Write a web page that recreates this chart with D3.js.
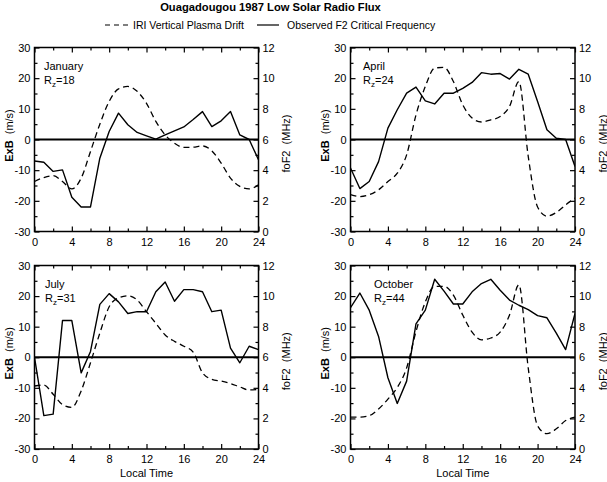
<!DOCTYPE html>
<html><head><meta charset="utf-8">
<script src="https://cdn.jsdelivr.net/npm/d3@7"></script>
<style>
body{margin:0;background:#fff}
svg{display:block}
text{font-family:"Liberation Sans",Arial,sans-serif;fill:#000}
</style>
</head><body>
<svg id="c" width="607" height="482"></svg>
<script>
// ---------------- data ----------------
const hours = [0,1,2,3,4,5,6,7,8,9,10,11,12,13,14,15,16,17,18,19,20,21,22,23,24];
const months = ["January","April","July","October"];
const sunspotRz = [18,24,31,44];

// IRI vertical plasma drift ExB (m/s)
const driftJan = [-13.7,-12.4,-11.8,-13.7,-16.1,-12.6,-3.9,5.0,12.4,16.5,17.3,15.7,11.8,5.9,1.5,-1.2,-2.6,-2.5,-2.1,-3.7,-7.7,-12.6,-15.3,-16.1,-14.8];
const driftApr = [-18.0,-18.6,-18.0,-16.4,-13.7,-11.0,-5.0,8.0,17.3,23.3,23.5,18.9,11.3,7.0,5.7,6.4,7.5,10.8,18.9,-5.5,-22.0,-25.0,-23.8,-21.3,-19.1];
const driftJul = [-9.4,-9.1,-12.1,-15.5,-16.4,-11.0,-1.8,7.9,16.5,19.4,20.1,18.7,14.9,11.1,7.3,5.2,3.6,1.7,-5.1,-7.2,-7.8,-8.6,-9.7,-10.7,-10.5];
const driftOct = [-19.6,-19.6,-19.1,-16.9,-13.7,-9.9,-3.5,8.4,18.1,23.2,23.2,20.3,13.8,8.2,5.7,6.3,8.2,13.8,23.7,-3.5,-22.4,-25.0,-23.4,-20.7,-19.6];

// Observed F2 critical frequency foF2 (MHz)
const foF2Jan = [4.60,4.52,3.92,4.02,2.24,1.60,1.60,4.78,6.52,7.72,6.96,6.46,6.24,6.02,6.30,6.56,6.82,7.30,7.82,6.84,7.22,7.82,6.30,6.00,4.68];
const foF2Apr = [4.14,2.80,3.26,4.56,6.74,7.94,9.02,9.42,8.52,8.32,9.02,9.02,9.34,9.72,10.36,10.26,10.30,9.94,10.58,10.26,8.48,6.64,6.08,6.00,4.24];
const foF2Jul = [6.00,2.18,2.28,8.40,8.40,4.98,6.38,9.46,10.16,9.62,8.86,8.98,8.98,10.28,10.92,9.66,10.42,10.42,10.28,8.98,9.08,6.60,5.64,6.72,6.50];
const foF2Oct = [9.24,10.20,9.08,7.36,4.66,2.98,4.44,8.18,9.08,11.10,10.32,9.48,9.48,10.28,10.82,11.10,10.38,9.74,9.40,9.12,8.72,8.58,7.58,6.50,8.86];

const xTicks = [0,4,8,12,16,20,24];
const xMinor = [2,6,10,14,18,22];
const leftTicks = [-30,-20,-10,0,10,20,30];
const leftMinor = [-25,-15,-5,5,15,25];
const rightTicks = [0,2,4,6,8,10,12];

const title = "Ouagadougou 1987 Low Solar Radio Flux";
const legendDrift = "IRI Vertical Plasma Drift";
const legendFoF2 = "Observed F2 Critical Frequency";

// ---------------- layout ----------------
const svg = d3.select("#c");
const F = '"Liberation Sans",Arial,sans-serif';

const panels = [
  {month:months[0], rz:sunspotRz[0], drift:driftJan, fo:foF2Jan, L:34.5, R:258.5, T:47.5, B:231.5, lx:44, bottom:false},
  {month:months[1], rz:sunspotRz[1], drift:driftApr, fo:foF2Apr, L:350.5, R:575, T:47.5, B:231.5, lx:363, bottom:false},
  {month:months[2], rz:sunspotRz[2], drift:driftJul, fo:foF2Jul, L:34.5, R:258.5, T:265.5, B:449, lx:45, bottom:true},
  {month:months[3], rz:sunspotRz[3], drift:driftOct, fo:foF2Oct, L:350.5, R:575, T:265.5, B:449, lx:374, bottom:true}
];

svg.append("text").attr("x",270.5).attr("y",10.5).attr("text-anchor","middle")
  .style("font-size","11.2px").style("font-weight","bold").text(title);

// legend
const lg = svg.append("g");
lg.append("line").attr("x1",105).attr("x2",128).attr("y1",25).attr("y2",25)
  .attr("stroke","#000").attr("stroke-width",1.2).attr("stroke-dasharray","5,4");
lg.append("text").attr("x",133).attr("y",29).style("font-size","10.5px").text(legendDrift);
lg.append("line").attr("x1",257).attr("x2",279).attr("y1",25).attr("y2",25)
  .attr("stroke","#000").attr("stroke-width",1.2);
lg.append("text").attr("x",287).attr("y",29).style("font-size","10.5px").text(legendFoF2);

panels.forEach(p => {
  const g = svg.append("g");
  const x = d3.scaleLinear().domain([0,24]).range([p.L,p.R]);
  const yL = d3.scaleLinear().domain([-30,30]).range([p.B,p.T]);
  const yR = d3.scaleLinear().domain([0,12]).range([p.B,p.T]);

  // axes with inward ticks
  const axB = d3.axisBottom(x).tickValues(xTicks).tickSize(-5).tickPadding(6.5).tickFormat(d3.format("d"));
  const axT = d3.axisTop(x).tickValues(xTicks).tickSize(-5).tickFormat("");
  const axL = d3.axisLeft(yL).tickValues(leftTicks).tickSize(-5).tickPadding(4).tickFormat(d=>d);
  const axR = d3.axisRight(yR).tickValues(rightTicks).tickSize(-5).tickPadding(4);
  const axBm = d3.axisBottom(x).tickValues(xMinor).tickSize(-3).tickFormat("");
  const axTm = d3.axisTop(x).tickValues(xMinor).tickSize(-3).tickFormat("");
  const axLm = d3.axisLeft(yL).tickValues(leftMinor).tickSize(-3).tickFormat("");
  const axRm = d3.axisRight(yL).tickValues(leftMinor).tickSize(-3).tickFormat("");

  const put = (ax, tr) => {
    const a = g.append("g").attr("transform",tr).call(ax);
    a.select(".domain").remove();
    a.selectAll("line").attr("stroke","#000").attr("stroke-width",1.2);
    a.selectAll("text").style("font-family",F).style("font-size","11px").attr("fill","#000");
    return a;
  };
  put(axB,`translate(0,${p.B})`);
  put(axT,`translate(0,${p.T})`);
  put(axL,`translate(${p.L},0)`);
  put(axR,`translate(${p.R},0)`);
  put(axBm,`translate(0,${p.B})`);
  put(axTm,`translate(0,${p.T})`);
  put(axLm,`translate(${p.L},0)`);
  put(axRm,`translate(${p.R},0)`);

  // zero line
  g.append("line").attr("x1",p.L).attr("x2",p.R).attr("y1",yL(0)).attr("y2",yL(0))
    .attr("stroke","#000").attr("stroke-width",2);

  // series
  const lineD = d3.line().x((d,i)=>x(hours[i])).y(d=>yL(d)).curve(d3.curveMonotoneX);
  const lineF = d3.line().x((d,i)=>x(hours[i])).y(d=>yR(d));
  const clipId = "clip"+p.month;
  svg.append("clipPath").attr("id",clipId).append("rect")
    .attr("x",p.L).attr("y",p.T).attr("width",p.R-p.L).attr("height",p.B-p.T);
  g.append("path").attr("d",lineD(p.drift)).attr("fill","none").attr("stroke","#000")
    .attr("stroke-width",1.3).attr("stroke-dasharray","6,4").attr("clip-path",`url(#${clipId})`);
  g.append("path").attr("d",lineF(p.fo)).attr("fill","none").attr("stroke","#000")
    .attr("stroke-width",1.4).attr("stroke-linejoin","round").attr("clip-path",`url(#${clipId})`);

  // frame
  g.append("rect").attr("x",p.L).attr("y",p.T).attr("width",p.R-p.L).attr("height",p.B-p.T)
    .attr("fill","none").attr("stroke","#000").attr("stroke-width",1.5);

  // labels
  g.append("text").attr("x",p.lx).attr("y",p.T+22).style("font-size","11px").text(p.month);
  const rz = g.append("text").attr("x",p.lx).attr("y",p.T+36).style("font-size","11px");
  rz.append("tspan").text("R");
  rz.append("tspan").attr("dy",3).style("font-size","8px").text("z");
  rz.append("tspan").attr("dy",-3).text("="+p.rz);

  const mid = (p.T+p.B)/2;
  const lt = g.append("text").attr("transform",`translate(${p.L-26},${mid-4}) rotate(-90)`)
    .attr("text-anchor","middle").attr("dominant-baseline","central").style("font-size","11px");
  lt.append("tspan").style("font-weight","bold").text("ExB");
  lt.append("tspan").text("\u00a0\u00a0(m/s)");
  g.append("text").attr("transform",`translate(${p.R+27.5},${mid+4}) rotate(-90)`)
    .attr("text-anchor","middle").attr("dominant-baseline","central").style("font-size","11px")
    .text("foF2\u00a0\u00a0(MHz)");

  if (p.bottom) {
    g.append("text").attr("x",(p.L+p.R)/2).attr("y",p.B+28).attr("text-anchor","middle")
      .style("font-size","11px").text("Local Time");
  }
});
</script>
</body></html>
